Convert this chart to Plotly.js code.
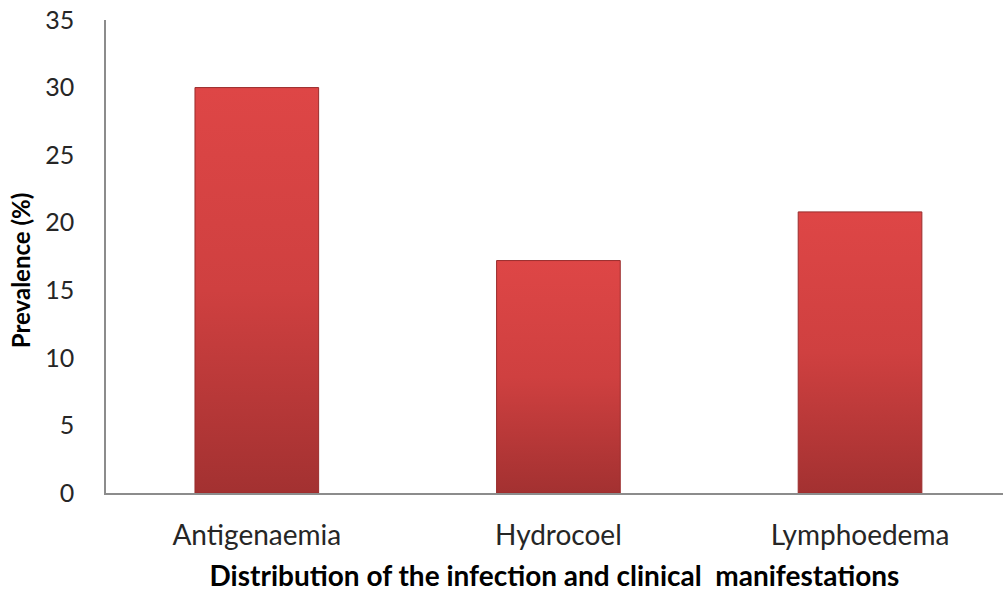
<!DOCTYPE html>
<html>
<head>
<meta charset="utf-8">
<script src="https://cdn.plot.ly/plotly-3.0.1.min.js"></script>
<style>html,body{margin:0;padding:0;background:#fff;}#chart{width:1003px;height:595px;}</style>
</head>
<body>
<div id="chart"></div>
<script>
var categories = ["Antigenaemia", "Hydrocoel", "Lymphoedema"];
var prevalence = [30, 17.2, 20.8];
var yTicks = [0, 5, 10, 15, 20, 25, 30, 35];
var yTitle = "Prevalence (%)";
var xTitle = "Distribution of the infection and clinical  manifestations";

var trace = {
  type: "bar",
  x: categories,
  y: prevalence,
  marker: {color: "#c43b3b", line: {color: "#9a2c2c", width: 1}},
  hoverinfo: "x+y"
};

var font = "Lato, 'Open Sans', sans-serif";
var layout = {
  width: 1003, height: 595,
  margin: {l: 106, r: 0, t: 20, b: 102},
  paper_bgcolor: "#ffffff", plot_bgcolor: "#ffffff",
  bargap: 0.59,
  showlegend: false,
  font: {family: font, color: "#262626", size: 28},
  xaxis: {
    range: [-0.5, 2.474],
    showline: true, linecolor: "#8c8c8c", linewidth: 1.5,
    showgrid: false, zeroline: false, ticks: "",
    ticklabelstandoff: 17,
    tickfont: {size: 28, family: font, color: "#262626"},
    title: {text: "<b>" + xTitle + "</b>", font: {size: 28, family: font, color: "#000"}, standoff: 16}
  },
  yaxis: {
    range: [0, 35],
    tickvals: yTicks,
    showline: true, linecolor: "#8c8c8c", linewidth: 1.5,
    showgrid: false, zeroline: false, ticks: "",
    ticklabelstandoff: 25,
    tickfont: {size: 25, family: font, color: "#262626"}
  },
  annotations: [{
    text: "<b>" + yTitle + "</b>",
    textangle: -90,
    xref: "paper", yref: "paper",
    x: -0.0959, y: 0.471,
    xanchor: "center", yanchor: "middle",
    showarrow: false,
    font: {size: 24, family: font, color: "#000"}
  }]
};

function addGradient(gd) {
  var svg = gd.querySelector("svg.main-svg");
  if (!svg) return;
  var ns = "http://www.w3.org/2000/svg";
  var defs = svg.querySelector("defs");
  if (!defs) { defs = document.createElementNS(ns, "defs"); svg.insertBefore(defs, svg.firstChild); }
  if (!svg.querySelector("#barGrad")) {
    var g = document.createElementNS(ns, "linearGradient");
    g.setAttribute("id", "barGrad");
    g.setAttribute("x1", "0"); g.setAttribute("y1", "0");
    g.setAttribute("x2", "0"); g.setAttribute("y2", "1");
    [["0", "#de4646"], ["0.5", "#cf4040"], ["1", "#a33131"]].forEach(function (s) {
      var st = document.createElementNS(ns, "stop");
      st.setAttribute("offset", s[0]); st.setAttribute("stop-color", s[1]);
      g.appendChild(st);
    });
    defs.appendChild(g);
  }
  gd.querySelectorAll(".barlayer .point path").forEach(function (p) {
    p.style.fill = "url(#barGrad)";
  });
}

var gd = document.getElementById("chart");
Plotly.newPlot(gd, [trace], layout, {displayModeBar: false, responsive: false}).then(function () {
  addGradient(gd);
  gd.on("plotly_afterplot", function () { addGradient(gd); });
});
</script>
</body>
</html>
